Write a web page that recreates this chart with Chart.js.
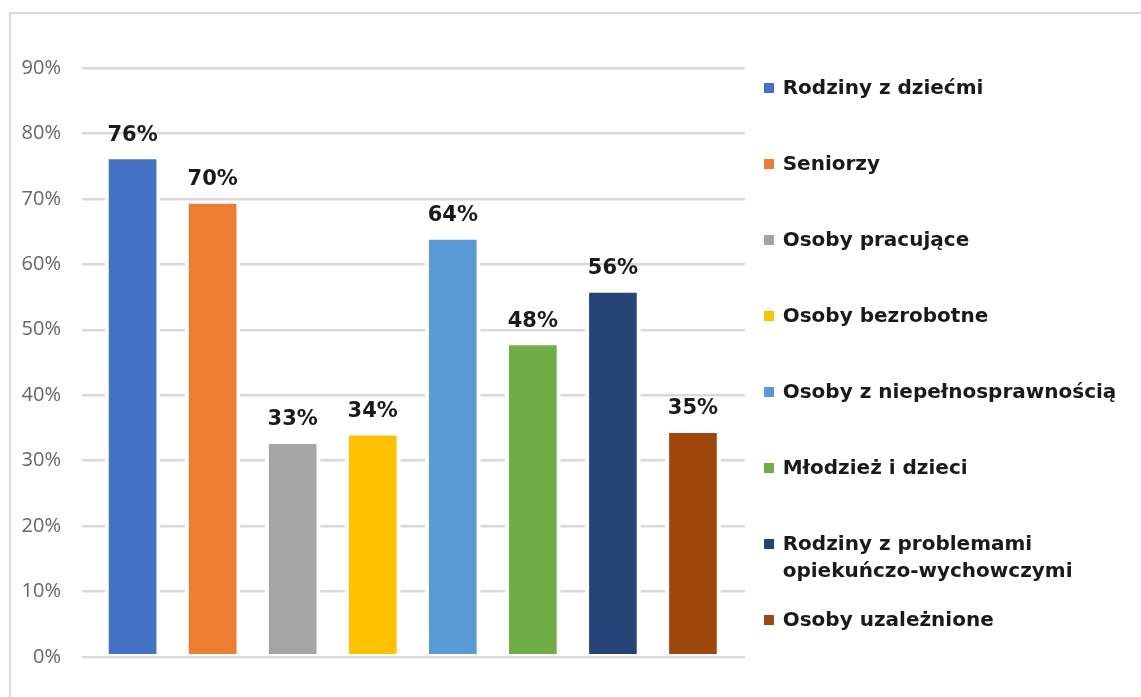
<!DOCTYPE html>
<html lang="pl">
<head>
<meta charset="utf-8">
<title>Grupy odbiorców</title>
<script src="https://cdn.jsdelivr.net/npm/chart.js@4.4.1/dist/chart.umd.min.js"></script>
<style>
  html, body { margin: 0; padding: 0; background: #fff; }
  body { width: 1141px; height: 697px; overflow: hidden; position: relative; }
  .frame {
    position: absolute; left: 9px; top: 12px; right: -20px; bottom: -20px;
    border-left: 2px solid #d9d9d9; border-top: 2px solid #d9d9d9;
  }
  #chartWrap { position: absolute; left: 0; top: 0; width: 1141px; height: 697px; }
  #legend {
    position: absolute; left: 764px; top: 0;
    font-family: 'DejaVu Sans', sans-serif; font-weight: bold; font-size: 20px; color: #1a1a1a;
  }
  .legend-item { position: absolute; left: 0; white-space: nowrap; line-height: 27px; }
  .legend-box { position: absolute; left: 0; top: 8.5px; width: 10px; height: 10px; }
  .legend-text { position: absolute; left: 18.7px; top: 0; }
</style>
</head>
<body>
<div class="frame"></div>
<div id="chartWrap"><canvas id="groupsChart"></canvas></div>
<div id="legend"></div>

<script>
// Chart data
const categories = [
  'Rodziny z dziećmi',
  'Seniorzy',
  'Osoby pracujące',
  'Osoby bezrobotne',
  'Osoby z niepełnosprawnością',
  'Młodzież i dzieci',
  ['Rodziny z problemami', 'opiekuńczo-wychowczymi'],
  'Osoby uzależnione'
];
const values = [76.3, 69.5, 32.8, 34.1, 64.0, 47.9, 55.9, 34.5];
const colors = ['#4472C4', '#ED7D31', '#A5A5A5', '#FFC000', '#5B9BD5', '#70AD47', '#264478', '#9E480E'];
const yMax = 90;
const yStep = 10;

// Labels above bars
const valueLabels = {
  id: 'valueLabels',
  afterDatasetsDraw(chart) {
    const ctx = chart.ctx;
    ctx.save();
    ctx.font = 'bold 21px "DejaVu Sans"';
    ctx.fillStyle = '#1a1a1a';
    ctx.textAlign = 'center';
    ctx.textBaseline = 'alphabetic';
    chart.data.datasets.forEach((ds, i) => {
      const meta = chart.getDatasetMeta(i);
      meta.data.forEach((bar, j) => {
        ctx.fillText(Math.round(ds.data[j].y) + '%', bar.x, bar.y - 17);
      });
    });
    ctx.restore();
  }
};

function initChart() {
  const ctx = document.getElementById('groupsChart');

  const datasets = categories.map((name, i) => ({
    label: Array.isArray(name) ? name.join(' ') : name,
    data: [{ x: i, y: values[i] }],
    backgroundColor: colors[i],
    borderColor: '#ffffff',
    borderWidth: { left: 4, right: 4, top: 2, bottom: 2 },
    borderSkipped: false,
    barThickness: 55
  }));

  return new Chart(ctx, {
    type: 'bar',
    data: { datasets },
    plugins: [valueLabels],
    options: {
      responsive: true,
      maintainAspectRatio: false,
      devicePixelRatio: 1,
      animation: false,
      layout: { padding: { left: 0, top: 68, right: 396, bottom: 40 } },
      plugins: {
        legend: { display: false },
        tooltip: { enabled: false }
      },
      scales: {
        x: {
          type: 'linear',
          min: -0.632,
          max: 7.65,
          offset: false,
          stacked: true,
          display: false
        },
        y: {
          min: 0,
          max: yMax,
          stacked: true,
          border: { display: false },
          grid: { color: '#d9d9d9', lineWidth: 2.5, drawTicks: false },
          ticks: {
            stepSize: yStep,
            padding: 21,
            color: '#666666',
            font: { family: "'Open Sans', sans-serif", size: 20 },
            callback: v => v + '%'
          },
          afterFit(scale) { scale.width = 82; }
        }
      }
    }
  });
}

// Legend on the right, built from the same arrays
function buildLegend() {
  const legend = document.getElementById('legend');
  const firstCenter = 87.7;
  const step = 76;
  categories.forEach((name, i) => {
    const item = document.createElement('div');
    item.className = 'legend-item';
    item.style.top = (firstCenter + i * step - 13.5) + 'px';
    const box = document.createElement('span');
    box.className = 'legend-box';
    box.style.background = colors[i];
    const text = document.createElement('span');
    text.className = 'legend-text';
    text.innerHTML = (Array.isArray(name) ? name : [name]).join('<br>');
    item.appendChild(box);
    item.appendChild(text);
    legend.appendChild(item);
  });
}

initChart();
buildLegend();
</script>
</body>
</html>
